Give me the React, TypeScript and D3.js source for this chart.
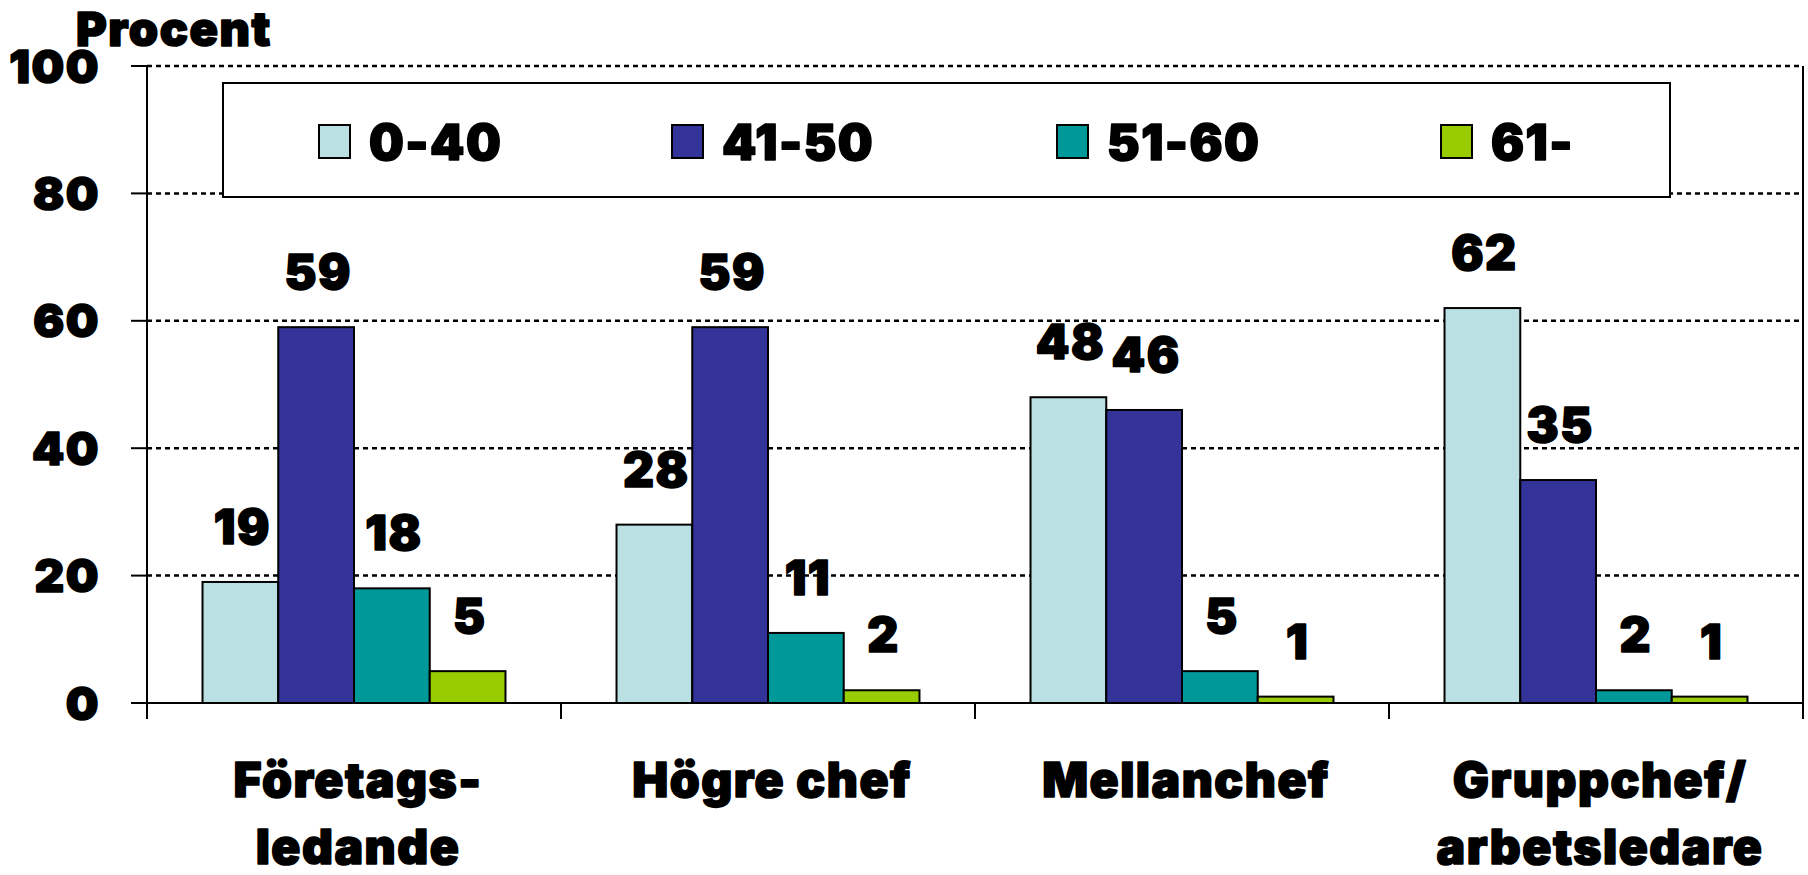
import React from "react";
import * as d3 from "d3";

const categories: string[][] = [
  ["Företags-", "ledande"],
  ["Högre chef"],
  ["Mellanchef"],
  ["Gruppchef/", "arbetsledare"],
];
const seriesNames = ["0-40", "41-50", "51-60", "61-"];
const age0_40 = [19, 28, 48, 62];
const age41_50 = [59, 59, 46, 35];
const age51_60 = [18, 11, 5, 2];
const age61 = [5, 2, 1, 1];
const seriesValues = [age0_40, age41_50, age51_60, age61];
const yTicks = [0, 20, 40, 60, 80, 100];
const yTitle = "Procent";

const colors = ["#BBE0E3", "#333399", "#009999", "#99CC00"];
const FONT = "Inter, Lato, 'DejaVu Sans', sans-serif";

const W = 1808;
const H = 875;
const left = 147;
const right = 1803;
const top = 66;
const bottom = 703;

// legend layout
const legendBox = { x: 223, y: 83, w: 1447, h: 114 };
const legendX = [319, 672, 1057, 1441];

const textStyle = {
  stroke: "#000",
  strokeWidth: 1.6,
  strokeLinejoin: "round" as const,
  letterSpacing: "1.5px",
};

export default function App() {
  const y = d3.scaleLinear().domain([0, 100]).range([bottom, top]);
  const x0 = d3
    .scaleBand<number>()
    .domain(d3.range(categories.length))
    .range([left, right])
    .padding(0);
  const x1 = d3
    .scaleBand<number>()
    .domain(d3.range(seriesNames.length))
    .range([0, x0.bandwidth()])
    .paddingInner(0)
    .paddingOuter(0.733);

  const catBounds = d3.range(categories.length + 1).map((i) =>
    i < categories.length ? (x0(i) as number) : right
  );

  return (
    <svg
      width={W}
      height={H}
      style={{ position: "absolute", left: 0, top: 0, background: "#fff" }}
      fontFamily={FONT}
      fontWeight={900}
    >
      <rect x={0} y={0} width={W} height={H} fill="#fff" />
      {/* gridlines */}
      {yTicks
        .filter((t) => t > 0)
        .map((t) => (
          <line
            key={"g" + t}
            x1={left}
            x2={right}
            y1={y(t)}
            y2={y(t)}
            stroke="#000"
            strokeWidth={2.5}
            strokeDasharray="5,4"
          />
        ))}
      {/* right border */}
      <line x1={right} x2={right} y1={top} y2={bottom + 16} stroke="#000" strokeWidth={2} />
      {/* bars */}
      {seriesValues.map((vals, si) =>
        vals.map((v, ci) => {
          const bx = (x0(ci) as number) + (x1(si) as number);
          return (
            <rect
              key={`b${si}-${ci}`}
              x={bx}
              y={y(v)}
              width={x1.bandwidth()}
              height={y(0) - y(v)}
              fill={colors[si]}
              stroke="#000"
              strokeWidth={2}
            />
          );
        })
      )}
      {/* value labels */}
      {seriesValues.map((vals, si) =>
        vals.map((v, ci) => {
          const cx = (x0(ci) as number) + (x1(si) as number) + x1.bandwidth() / 2;
          return (
            <text
              key={`l${si}-${ci}`}
              x={cx + 2}
              y={y(v) - 38}
              textAnchor="middle"
              fontSize={48}
              fill="#000"
              style={textStyle}
            >
              {v}
            </text>
          );
        })
      )}
      {/* y axis */}
      <line x1={left} x2={left} y1={top} y2={bottom + 16} stroke="#000" strokeWidth={2} />
      {yTicks.map((t) => (
        <g key={"t" + t}>
          <line x1={left - 16} x2={left} y1={y(t)} y2={y(t)} stroke="#000" strokeWidth={2} />
          <text x={100} y={y(t)} dy="0.36em" textAnchor="end" fontSize={46} fill="#000" style={textStyle}>
            {t}
          </text>
        </g>
      ))}
      <text x={76} y={46} fontSize={47} fill="#000" style={textStyle}>
        {yTitle}
      </text>
      {/* x axis */}
      <line x1={left - 16} x2={right} y1={bottom} y2={bottom} stroke="#000" strokeWidth={2} />
      {catBounds.map((b, i) => (
        <line key={"xt" + i} x1={b} x2={b} y1={bottom} y2={bottom + 16} stroke="#000" strokeWidth={2} />
      ))}
      {categories.map((lines, ci) => {
        const cx = (x0(ci) as number) + x0.bandwidth() / 2 + 4;
        return (
          <text key={"c" + ci} textAnchor="middle" fontSize={48} fill="#000" style={textStyle}>
            {lines.map((ln, li) => (
              <tspan key={li} x={cx} y={797 + li * 67}>
                {ln}
              </tspan>
            ))}
          </text>
        );
      })}
      {/* legend */}
      <rect
        x={legendBox.x}
        y={legendBox.y}
        width={legendBox.w}
        height={legendBox.h}
        fill="#fff"
        stroke="#000"
        strokeWidth={2}
      />
      {seriesNames.map((n, i) => (
        <g key={"lg" + i}>
          <rect x={legendX[i]} y={125} width={31} height={33} fill={colors[i]} stroke="#000" strokeWidth={2} />
          <text x={legendX[i] + 50} y={160} fontSize={49} fill="#000" style={textStyle}>
            {n}
          </text>
        </g>
      ))}
    </svg>
  );
}
